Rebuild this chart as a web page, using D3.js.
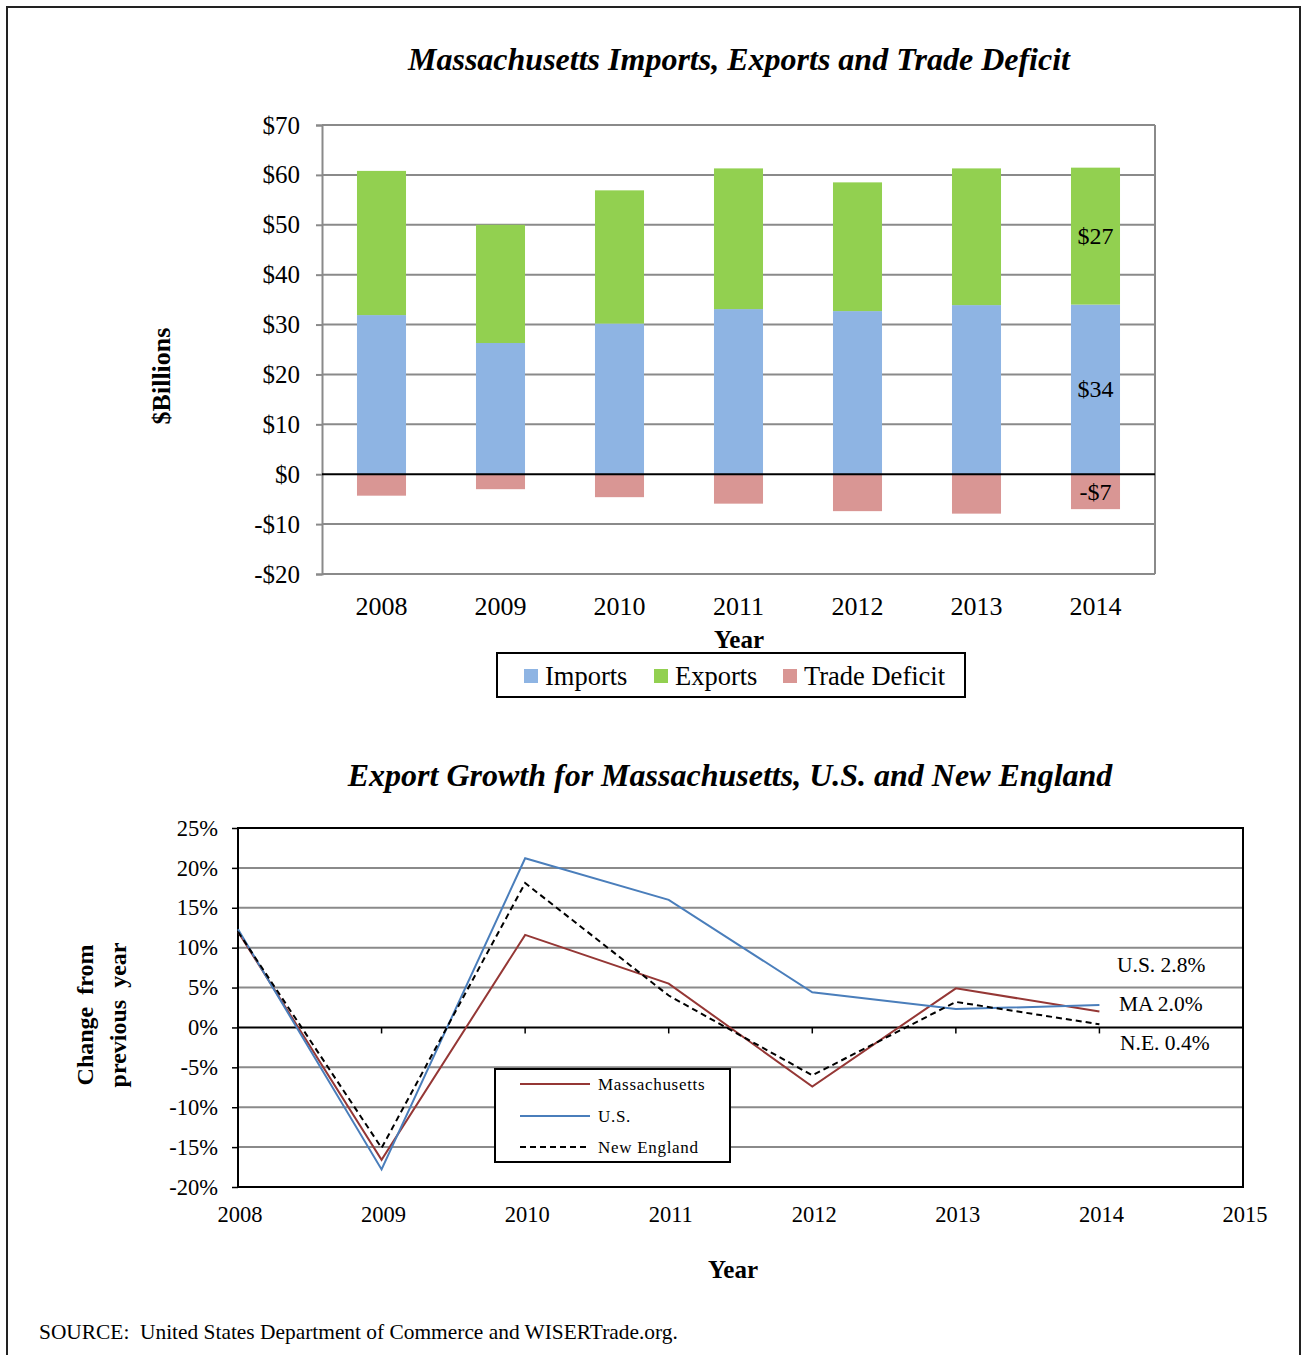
<!DOCTYPE html>
<html><head><meta charset="utf-8">
<script src="https://cdn.jsdelivr.net/npm/d3@7"></script>
<style>
html,body{margin:0;padding:0;background:#fff;}
svg{display:block;}
svg text{font-family:"Liberation Serif","Times New Roman","DejaVu Serif",serif !important;}
</style></head>
<body>
<svg id="c" width="1302" height="1355"></svg>
<script>
// ---------- data ----------
const years = ["2008","2009","2010","2011","2012","2013","2014"];
const imports = [31.9, 26.3, 30.2, 33.1, 32.7, 33.9, 34.0];
const exportsV = [28.9, 23.7, 26.7, 28.2, 25.8, 27.4, 27.45];
const deficit = [-4.3, -3.0, -4.6, -5.9, -7.4, -7.9, -7.0];
const barTicks = [-20,-10,0,10,20,30,40,50,60,70];
const barLegend = ["Imports","Exports","Trade Deficit"];

const growthYears = [2008,2009,2010,2011,2012,2013,2014];
const maGrowth = [12.0, -16.6, 11.6, 5.5, -7.4, 4.9, 2.0];
const usGrowth = [12.3, -17.8, 21.2, 16.0, 4.4, 2.3, 2.8];
const neGrowth = [12.0, -15.1, 18.1, 4.0, -6.0, 3.2, 0.4];
const growthXTicks = [2008,2009,2010,2011,2012,2013,2014,2015];
const growthYTicks = [-20,-15,-10,-5,0,5,10,15,20,25];
const lineLegend = ["Massachusetts","U.S.","New England"];
const endLabels = ["U.S. 2.8%","MA 2.0%","N.E. 0.4%"];

const FONT = "Liberation Serif, Times New Roman, serif";
const svg = d3.select("#c");
const gray = "#8a8a8a";

// outer frame
svg.append("rect").attr("x",7).attr("y",7).attr("width",1293).attr("height",1370)
  .attr("fill","none").attr("stroke","#222").attr("stroke-width",2);

// ================= TOP CHART =================
const L1 = 322, R1 = 1155, T1 = 125, B1 = 574;
const x1 = d3.scaleBand().domain(years).range([L1,R1]).paddingInner(0.588).paddingOuter(0.294);
const y1 = d3.scaleLinear().domain([-20,70]).range([B1,T1]);

svg.append("text").attr("x",739).attr("y",70).attr("text-anchor","middle")
  .attr("font-size",32).attr("font-weight","bold").attr("font-style","italic")
  .text("Massachusetts Imports, Exports and Trade Deficit");

const g1 = svg.append("g");
g1.selectAll("line.grid").data(barTicks.filter(d=>d!==0)).join("line")
  .attr("x1",L1).attr("x2",R1).attr("y1",d=>y1(d)).attr("y2",d=>y1(d))
  .attr("stroke",gray).attr("stroke-width",2);
g1.append("line").attr("x1",R1).attr("x2",R1).attr("y1",T1).attr("y2",B1).attr("stroke",gray).attr("stroke-width",2);

const barData = years.map((y,i)=>({y, imp:imports[i], exp:exportsV[i], def:deficit[i]}));
g1.selectAll("rect.imp").data(barData).join("rect")
  .attr("x",d=>x1(d.y)).attr("width",x1.bandwidth())
  .attr("y",d=>y1(d.imp)).attr("height",d=>y1(0)-y1(d.imp)).attr("fill","#8EB4E3");
g1.selectAll("rect.exp").data(barData).join("rect")
  .attr("x",d=>x1(d.y)).attr("width",x1.bandwidth())
  .attr("y",d=>y1(d.imp+d.exp)).attr("height",d=>y1(d.imp)-y1(d.imp+d.exp)).attr("fill","#92D050");
g1.selectAll("rect.def").data(barData).join("rect")
  .attr("x",d=>x1(d.y)).attr("width",x1.bandwidth())
  .attr("y",y1(0)).attr("height",d=>y1(d.def)-y1(0)).attr("fill","#D99694");

const ax1 = d3.axisLeft(y1).tickValues(barTicks).tickSize(6).tickPadding(16)
  .tickFormat(d=> d<0 ? "-$"+Math.abs(d) : "$"+d);
const ag1 = g1.append("g").attr("transform",`translate(${L1},0)`).call(ax1)
  .attr("font-family",FONT).attr("font-size",25);
ag1.select(".domain").attr("stroke",gray).attr("stroke-width",2);
ag1.selectAll(".tick line").attr("stroke",gray).attr("stroke-width",2);
ag1.selectAll(".tick text").attr("fill","#000");

g1.append("line").attr("x1",L1).attr("x2",R1).attr("y1",y1(0)).attr("y2",y1(0)).attr("stroke","#000").attr("stroke-width",2);

g1.selectAll("text.xl").data(years).join("text")
  .attr("x",d=>x1(d)+x1.bandwidth()/2).attr("y",615).attr("text-anchor","middle")
  .attr("font-size",26).text(d=>d);

const last = barData[barData.length-1];
const cx = x1(last.y)+x1.bandwidth()/2;
const dl = [
  {mid:last.imp+last.exp/2, t:"$"+Math.round(last.exp)},
  {mid:last.imp/2, t:"$"+Math.round(last.imp)},
  {mid:last.def/2, t:"-$"+Math.abs(Math.round(last.def))}
];
g1.selectAll("text.dl").data(dl).join("text")
  .attr("x",cx).attr("y",d=>y1(d.mid)+8).attr("text-anchor","middle")
  .attr("font-size",24).text(d=>d.t);

svg.append("text").attr("x",739).attr("y",648).attr("text-anchor","middle")
  .attr("font-size",25).attr("font-weight","bold").text("Year");
svg.append("text").attr("transform","translate(170,376) rotate(-90)").attr("text-anchor","middle")
  .attr("font-size",26).attr("font-weight","bold").text("$Billions");

svg.append("rect").attr("x",497).attr("y",653).attr("width",468).attr("height",44)
  .attr("fill","#fff").attr("stroke","#000").attr("stroke-width",2);
const legCol = ["#8EB4E3","#92D050","#D99694"];
const legX = [524,654,783];
barLegend.forEach((t,i)=>{
  svg.append("rect").attr("x",legX[i]).attr("y",669).attr("width",14).attr("height",14).attr("fill",legCol[i]);
  svg.append("text").attr("x",legX[i]+21).attr("y",685).attr("font-size",26.5).text(t);
});

// ================= BOTTOM CHART =================
const L2 = 238, R2 = 1243, T2 = 828, B2 = 1187;
const x2 = d3.scaleLinear().domain([2008,2015]).range([L2,R2]);
const y2 = d3.scaleLinear().domain([-20,25]).range([B2,T2]);

svg.append("text").attr("x",730).attr("y",786).attr("text-anchor","middle")
  .attr("font-size",32).attr("font-weight","bold").attr("font-style","italic")
  .text("Export Growth for Massachusetts, U.S. and New England");

const g2 = svg.append("g");
g2.selectAll("line.grid").data(growthYTicks.filter(d=>d!==0 && d!==25 && d!==-20)).join("line")
  .attr("x1",L2).attr("x2",R2).attr("y1",d=>y2(d)).attr("y2",d=>y2(d))
  .attr("stroke",gray).attr("stroke-width",2);

const ax2 = d3.axisLeft(y2).tickValues(growthYTicks).tickSize(6).tickPadding(14)
  .tickFormat(d=>d+"%");
const ag2 = g2.append("g").attr("transform",`translate(${L2},0)`).call(ax2)
  .attr("font-family",FONT).attr("font-size",22.5);
ag2.select(".domain").remove();
ag2.selectAll(".tick line").attr("stroke","#000").attr("stroke-width",1.5);
ag2.selectAll(".tick text").attr("fill","#000");

g2.append("line").attr("x1",L2).attr("x2",R2).attr("y1",y2(0)).attr("y2",y2(0)).attr("stroke","#000").attr("stroke-width",2);
g2.selectAll("line.xt").data(growthXTicks.slice(1,-1)).join("line")
  .attr("x1",d=>x2(d)).attr("x2",d=>x2(d)).attr("y1",y2(0)).attr("y2",y2(0)+6)
  .attr("stroke","#000").attr("stroke-width",1.5);

g2.selectAll("text.xl").data(growthXTicks).join("text")
  .attr("x",d=>x2(d)+2).attr("y",1222).attr("text-anchor","middle")
  .attr("font-size",22.5).text(d=>d);

g2.append("rect").attr("x",L2).attr("y",T2).attr("width",R2-L2).attr("height",B2-T2)
  .attr("fill","none").attr("stroke","#000").attr("stroke-width",2);

const lineGen = d3.line().x((d,i)=>x2(growthYears[i])).y(d=>y2(d));
const series = [
  {v:maGrowth, c:"#953735", dash:null},
  {v:usGrowth, c:"#4A7EBB", dash:null},
  {v:neGrowth, c:"#000", dash:"6,4"}
];
series.forEach(s=>{
  g2.append("path").attr("d",lineGen(s.v)).attr("fill","none")
    .attr("stroke",s.c).attr("stroke-width",2).attr("stroke-dasharray",s.dash);
});

const endY = [972,1011,1050];
const endX = [1117,1119,1120];
endLabels.forEach((t,i)=>{
  g2.append("text").attr("x",endX[i]).attr("y",endY[i]).attr("font-size",21.5).text(t);
});

svg.append("rect").attr("x",495).attr("y",1069).attr("width",235).attr("height",93)
  .attr("fill","#fff").attr("stroke","#000").attr("stroke-width",2);
const lyy = [1084,1116,1147];
lineLegend.forEach((t,i)=>{
  svg.append("line").attr("x1",520).attr("x2",590).attr("y1",lyy[i]).attr("y2",lyy[i])
    .attr("stroke",series[i].c).attr("stroke-width",2).attr("stroke-dasharray",series[i].dash);
  svg.append("text").attr("x",598).attr("y",lyy[i]+6).attr("font-size",17).attr("letter-spacing",0.7).text(t);
});

svg.append("text").attr("x",733).attr("y",1278).attr("text-anchor","middle")
  .attr("font-size",25).attr("font-weight","bold").text("Year");
svg.append("text").attr("transform","translate(93,1015) rotate(-90)").attr("text-anchor","middle")
  .attr("font-size",24).attr("font-weight","bold").style("white-space","pre").text("Change  from");
svg.append("text").attr("transform","translate(126,1015) rotate(-90)").attr("text-anchor","middle")
  .attr("font-size",24).attr("font-weight","bold").style("white-space","pre").text("previous  year");

svg.append("text").attr("x",39).attr("y",1339).attr("font-size",21.4).style("white-space","pre")
  .text("SOURCE:  United States Department of Commerce and WISERTrade.org.");
</script>
</body></html>
